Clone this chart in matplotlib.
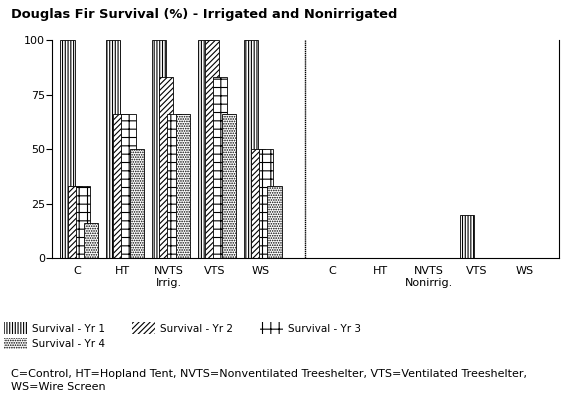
import matplotlib.pyplot as plt
from matplotlib.patches import Patch
import numpy as np

plt.rcParams['hatch.linewidth'] = 0.8

groups = ['C', 'HT', 'NVTS', 'VTS', 'WS']
tick_labels = ['C', 'HT', 'NVTS\nIrrig.', 'VTS', 'WS',
               'C', 'HT', 'NVTS\nNonirrig.', 'VTS', 'WS']

# irrigated
irr_yr1 = [100, 100, 100, 100, 100]
irr_yr2 = [33, 66, 83, 100, 50]
irr_yr3 = [33, 66, 66, 83, 50]
irr_yr4 = [16, 50, 66, 66, 33]
# nonirrigated
non_yr1 = [0, 0, 0, 20, 0]
non_yr2 = [0, 0, 0, 0, 0]
non_yr3 = [0, 0, 0, 0, 0]
non_yr4 = [0, 0, 0, 0, 0]

series_names = ['Survival - Yr 1', 'Survival - Yr 2', 'Survival - Yr 3', 'Survival - Yr 4']
hatches = ['||||||', '//////', '++', '.......']

yr1 = irr_yr1 + non_yr1
yr2 = irr_yr2 + non_yr2
yr3 = irr_yr3 + non_yr3
yr4 = irr_yr4 + non_yr4

x = np.concatenate([np.arange(5) * 0.97, 5.4 + np.arange(5) * 1.02])

fig = plt.figure(figsize=(5.67, 4.04), dpi=100)
ax = fig.add_axes([0.0917, 0.361, 0.894, 0.54])

w = 0.3
offs = [-0.2, -0.05, 0.12, 0.3]
for vals, off, h in zip([yr1, yr2, yr3, yr4], offs, hatches):
    ax.bar(x + off, vals, w, color='white', edgecolor='black', hatch=h, linewidth=0.6)

ax.set_xlim(-0.53, 10.2)
ax.set_ylim(0, 100)
ax.set_yticks([0, 25, 50, 75, 100])
ax.set_xticks(x)
ax.set_xticklabels(tick_labels, fontsize=8)
ax.tick_params(axis='x', length=0, pad=6)
ax.tick_params(axis='y', direction='out', length=4, labelsize=8, pad=1)
ax.spines['top'].set_visible(False)
ax.axvline(4.82, color='black', linewidth=1, linestyle=(0, (1, 0.5)))

fig.text(0.02, 0.955, 'Douglas Fir Survival (%) - Irrigated and Nonirrigated',
         fontsize=9.4, fontweight='bold')

handles = [Patch(facecolor='white', edgecolor='black', hatch=h, linewidth=0) for h in hatches]
order = [0, 3, 1, 2]
fig.legend([handles[i] for i in order], [series_names[i] for i in order],
           ncol=3, loc='upper left', bbox_to_anchor=(-0.01, 0.225),
           frameon=False, fontsize=7.5, handlelength=2.2, handleheight=1.3,
           columnspacing=2.6, handletextpad=0.5, labelspacing=0.4)

fig.text(0.02, 0.035, 'C=Control, HT=Hopland Tent, NVTS=Nonventilated Treeshelter, VTS=Ventilated Treeshelter,\nWS=Wire Screen',
         fontsize=8, linespacing=1.3)

fig.savefig('out.png', dpi=100)
